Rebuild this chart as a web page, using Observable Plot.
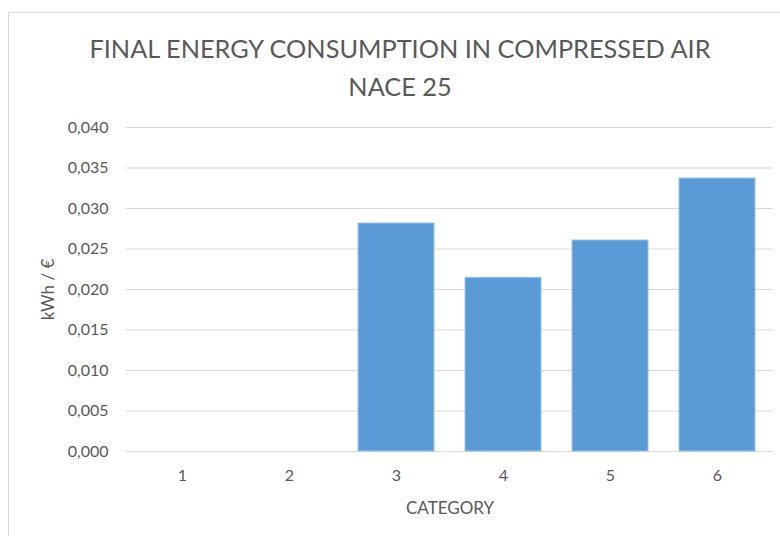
<!DOCTYPE html>
<html>
<head>
<meta charset="utf-8">
<script src="https://cdn.jsdelivr.net/npm/d3@7"></script>
<script src="https://cdn.jsdelivr.net/npm/@observablehq/plot@0.6"></script>
<style>
  html, body { margin: 0; padding: 0; background: #fff; }
  #wrap { position: relative; width: 780px; height: 536px; overflow: hidden; font-family: Lato, "Open Sans", sans-serif; }
  #border { position: absolute; left: 8px; top: 12px; width: 800px; height: 600px; border: 1px solid #d9d9d9; box-sizing: border-box; }
  #title { position: absolute; left: 0; top: 29px; width: 800px; text-align: center; color: #595959; font-size: 25.3px; line-height: 38px; }
  #chart { position: absolute; left: 0; top: 0; }
</style>
</head>
<body>
<div id="wrap">
  <div id="border"></div>
  <div id="chart"></div>
  <div id="title">FINAL ENERGY CONSUMPTION IN COMPRESSED AIR<br>NACE 25</div>
</div>
<script>
const categories = ["1", "2", "3", "4", "5", "6"];
const values = [null, null, 0.02815, 0.02145, 0.02605, 0.03370];
const yTicks = [0, 0.005, 0.010, 0.015, 0.020, 0.025, 0.030, 0.035, 0.040];
const yLabel = "kWh / €";
const xLabel = "CATEGORY";

const data = categories.map((c, i) => ({category: c, value: values[i]}));
const fmt = d3.formatLocale({decimal: ",", thousands: ".", grouping: [3], currency: ["", "€"]}).format(".3f");

const chart = Plot.plot({
  width: 780,
  height: 536,
  marginTop: 127,
  marginBottom: 85,
  marginLeft: 126,
  marginRight: 7,
  style: {fontFamily: 'Lato, "Open Sans", sans-serif', fontSize: "16px", color: "#595959", background: "transparent"},
  x: {domain: categories, paddingInner: 0.29, paddingOuter: 0.145},
  y: {domain: [0, 0.040]},
  marks: [
    Plot.gridY(yTicks, {stroke: "#d9d9d9", strokeOpacity: 1, strokeWidth: 1}),
    Plot.barY(data.filter(d => d.value != null), {x: "category", y: "value", fill: "#5b9bd5", stroke: "#9dc3e6", strokeWidth: 1}),
    Plot.axisY({ticks: yTicks, tickFormat: fmt, tickSize: 0, tickPadding: 18, fill: "#595959", fontSize: 16, label: null}),
    Plot.axisY({ticks: [], label: yLabel, labelAnchor: "center", labelArrow: "none", labelOffset: 85, fill: "#595959", fontSize: 17}),
    Plot.axisX({tickSize: 0, tickPadding: 18, fill: "#595959", fontSize: 16, label: null}),
    Plot.axisX({ticks: [], label: xLabel, labelAnchor: "center", labelArrow: "none", labelOffset: 62, fill: "#595959", fontSize: 17})
  ]
});
document.getElementById("chart").appendChild(chart);
</script>
</body>
</html>
